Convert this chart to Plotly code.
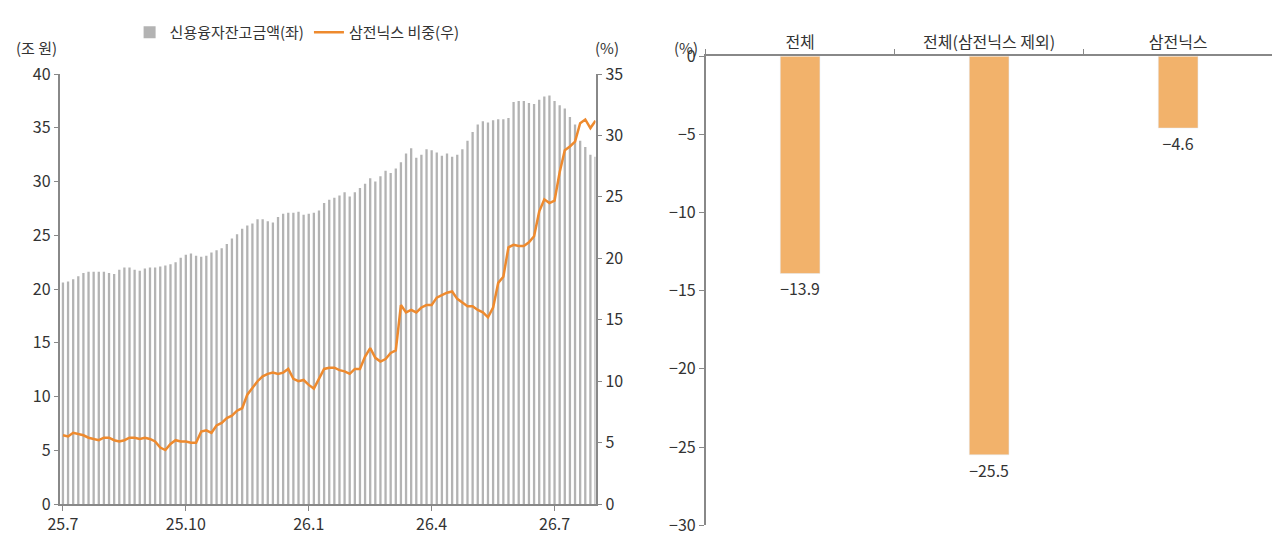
import plotly.graph_objects as go

# Left chart: ~8 samples per month from 25.7
credit = [20.6,20.7,20.9,21.2,21.5,21.6,21.6,21.6,
          21.6,21.5,21.4,21.8,22.0,22.0,21.8,21.7,
          21.9,22.0,22.0,22.1,22.2,22.3,22.5,22.9,
          23.2,23.3,23.1,23.0,23.1,23.4,23.6,23.8,
          24.2,24.7,25.1,25.6,25.9,26.1,26.5,26.5,
          26.3,26.2,26.7,27.0,27.1,27.1,27.2,26.9,
          27.0,27.1,27.3,28.0,28.3,28.5,28.7,29.0,
          28.6,29.0,29.4,29.8,30.3,30.0,30.5,31.0,
          30.8,31.2,31.8,32.6,33.1,32.2,32.5,33.0,
          32.9,32.7,32.4,32.6,32.3,32.5,33.0,33.8,
          34.6,35.3,35.6,35.5,35.7,35.8,35.8,35.9,
          37.4,37.5,37.5,37.3,37.2,37.6,37.9,38.0,
          37.5,37.1,36.8,36.0,35.3,33.8,33.2,32.5,
          32.3]
samsung_share = [5.6,5.5,5.8,5.7,5.6,5.4,5.3,5.2,
                 5.4,5.4,5.2,5.1,5.2,5.4,5.4,5.3,
                 5.4,5.3,5.1,4.6,4.4,4.9,5.2,5.1,
                 5.1,5.0,5.0,5.9,6.0,5.8,6.4,6.6,
                 7.0,7.2,7.6,7.8,8.9,9.5,10.0,10.4,
                 10.6,10.7,10.6,10.7,11.0,10.2,10.0,10.1,
                 9.7,9.4,10.2,11.0,11.1,11.1,10.9,10.8,
                 10.6,11.0,11.0,12.0,12.7,11.9,11.6,11.8,
                 12.3,12.5,16.2,15.6,15.8,15.6,16.0,16.2,
                 16.2,16.8,17.0,17.2,17.3,16.7,16.4,16.1,
                 16.1,15.8,15.6,15.2,16.0,18.0,18.5,20.9,
                 21.1,21.0,21.0,21.3,21.8,23.8,24.8,24.5,
                 24.7,27.0,28.8,29.1,29.5,31.0,31.3,30.6,
                 31.2]
xpos = [i / 8 for i in range(len(credit))]
tick_vals = [0, 3, 6, 9, 12]
tick_text = ["25.7", "25.10", "26.1", "26.4", "26.7"]

# Right chart
cats = ["전체", "전체(삼전닉스 제외)", "삼전닉스"]
changes = [-13.9, -25.5, -4.6]

FONT = "Noto Sans CJK KR"
AX = "#888888"
fig = go.Figure()
fig.add_trace(go.Bar(x=xpos, y=credit, name="신용융자잔고금액(좌)", marker_color="#b3b3b3",
                     marker_line_width=0, xaxis="x", yaxis="y"))
fig.add_trace(go.Scatter(x=xpos, y=samsung_share, name="삼전닉스 비중(우)", mode="lines",
                         line=dict(color="#EE8A2E", width=2.5), xaxis="x", yaxis="y2"))
fig.add_trace(go.Bar(x=cats, y=changes, marker_color="#F2B26B", showlegend=False, width=0.21,
                     text=[f"{v:.1f}".replace("-", "−") for v in changes], textposition="outside",
                     textfont=dict(size=16, color="#333"), cliponaxis=False, xaxis="x3", yaxis="y3"))

axcommon = dict(showline=True, linecolor=AX, linewidth=1.5, ticks="outside", tickcolor=AX,
                showgrid=False, zeroline=False, automargin=False, tickfont=dict(size=16, color="#333"))
fig.update_layout(
    width=1280, height=541, paper_bgcolor="white", plot_bgcolor="white",
    margin=dict(l=0, r=0, t=0, b=0, autoexpand=False), bargap=0.55,
    font=dict(family=FONT, color="#333"),
    xaxis=dict(domain=[0.041, 0.459], range=[-0.06, 13.0], tickvals=tick_vals, ticktext=tick_text,
               anchor="y", **axcommon),
    yaxis=dict(domain=[0.083, 0.878], range=[0, 40], dtick=5, anchor="x", **axcommon),
    yaxis2=dict(overlaying="y", side="right", range=[0, 35], dtick=5, anchor="x", **axcommon),
    xaxis3=dict(domain=[0.545, 0.988], anchor="y3", side="top", showline=True, linecolor=AX,
                linewidth=1.5, ticks="outside", tickson="boundaries", tickcolor=AX, automargin=False,
                tickfont=dict(size=16, color="#333")),
    yaxis3=dict(domain=[0.044, 0.911], range=[-30, 0], dtick=5, anchor="x3", **axcommon),
    legend=dict(orientation="h", x=0.095, y=0.985, yanchor="top", font=dict(size=15),
                bgcolor="rgba(0,0,0,0)"),
    annotations=[
        dict(text="(조 원)", x=0.005, y=0.95, xref="paper", yref="paper", showarrow=False,
             xanchor="left", font=dict(size=15)),
        dict(text="(%)", x=0.468, y=0.95, xref="paper", yref="paper", showarrow=False,
             xanchor="center", font=dict(size=15)),
        dict(text="(%)", x=0.53, y=0.95, xref="paper", yref="paper", showarrow=False,
             xanchor="center", font=dict(size=15)),
    ],
)
fig.write_html("out.html")
